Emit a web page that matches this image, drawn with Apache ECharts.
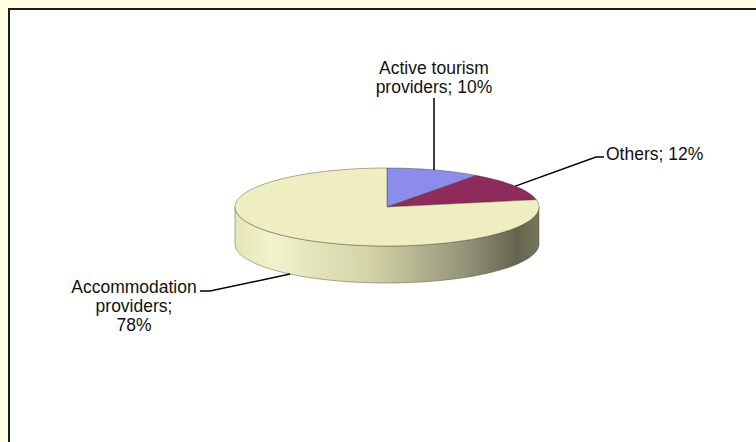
<!DOCTYPE html>
<html>
<head>
<meta charset="utf-8">
<script src="https://cdn.jsdelivr.net/npm/echarts@6/dist/echarts.min.js"></script>
<style>
  html, body { margin: 0; padding: 0; background: #FFFFDF; }
  #chart { width: 756px; height: 442px; }
</style>
</head>
<body>
<div id="chart"></div>
<script>
// ---- data ----
const categories = ['Active tourism providers', 'Others', 'Accommodation providers'];
const shares = [10, 12, 78];
const sliceColors = ['#8C8CEC', '#8E2A5C', '#EEEEC0'];

// ---- layout (positions, not data) ----
const PIE = { cx: 387, cy: 207, rx: 152, ry: 39, depth: 37 };
const LABELS = [
  { breaks: [1], x: 434, y: 77, align: 'center', via: [[434, 98]] },
  { breaks: [], x: 606, y: 154, align: 'left', via: [[596, 157], [604, 157]] },
  { breaks: [0, 1], x: 134, y: 306, align: 'center', via: [[210, 291], [200, 291]] }
];

const total = shares.reduce((a, b) => a + b, 0);
const rad = d => d * Math.PI / 180;
const pt = (deg, dy) => [PIE.cx + PIE.rx * Math.cos(rad(deg)), PIE.cy - PIE.ry * Math.sin(rad(deg)) + (dy || 0)];
const arc = (from, to, dy) => {
  const n = Math.max(2, Math.ceil(Math.abs(from - to) / 1.5));
  const pts = [];
  for (let s = 0; s <= n; s++) pts.push(pt(from + (to - from) * s / n, dy));
  return pts;
};
const wallFill = {
  type: 'linear', x: 0, y: 0, x2: 1, y2: 0,
  colorStops: [
    { offset: 0, color: '#E6E6B8' },
    { offset: 0.12, color: '#F2F2CC' },
    { offset: 0.45, color: '#D2D2A6' },
    { offset: 0.75, color: '#95957A' },
    { offset: 0.93, color: '#65654F' },
    { offset: 1, color: '#77775E' }
  ]
};

function labelText(i, v) {
  const words = (categories[i] + '; ' + v + '%').split(' ');
  let out = '';
  words.forEach((w, k) => {
    out += w;
    if (k < words.length - 1) out += LABELS[i].breaks.indexOf(k) >= 0 ? '\n' : ' ';
  });
  return out;
}

function renderItem(params, api) {
  const i = params.dataIndex;
  const v = api.value(0);
  let before = 0;
  for (let k = 0; k < i; k++) before += shares[k];
  const a1 = 90 - before / total * 360;
  const a2 = 90 - (before + v) / total * 360;
  const edge = 'rgba(70,70,50,0.55)';
  const children = [];
  // visible front wall
  [-360, 0, 360].forEach(shift => {
    const lo = Math.max(a2, -180 + shift), hi = Math.min(a1, shift);
    if (hi > lo) {
      const top = arc(hi, lo, 0);
      const bottom = arc(lo, hi, PIE.depth);
      children.push({
        type: 'polygon', shape: { points: top.concat(bottom) },
        style: { fill: wallFill, stroke: edge, lineWidth: 0.8 }
      });
    }
  });
  // top face
  children.push({
    type: 'polygon',
    shape: { points: [[PIE.cx, PIE.cy]].concat(arc(a1, a2, 0)) },
    style: { fill: api.visual('color'), stroke: edge, lineWidth: 0.8 }
  });
  // leader line + label
  const mid = (a1 + a2) / 2;
  const anchor = pt(mid, Math.sin(rad(mid)) < 0 ? PIE.depth : 0);
  const L = LABELS[i];
  children.push({
    type: 'polyline', shape: { points: [anchor].concat(L.via) },
    style: { stroke: '#000', lineWidth: 1.5, fill: null }
  });
  children.push({
    type: 'text',
    style: {
      text: labelText(i, v), x: L.x, y: L.y,
      align: L.align, verticalAlign: 'middle',
      fontSize: 17.5, fontFamily: '"Liberation Sans", Arial, sans-serif',
      lineHeight: 19, fill: '#111'
    }
  });
  return { type: 'group', children: children };
}

const chart = echarts.init(document.getElementById('chart'), null, { renderer: 'svg' });
chart.setOption({
  backgroundColor: '#FFFFDF',
  animation: false,
  graphic: [{
    type: 'rect', z: -10,
    shape: { x: 9, y: 9, width: 800, height: 500 },
    style: { fill: '#FFFFFF', stroke: '#1c1c1c', lineWidth: 2 }
  }],
  series: [{
    type: 'custom',
    coordinateSystem: 'none',
    renderItem: renderItem,
    data: shares.map((v, i) => ({ value: [v], name: categories[i], itemStyle: { color: sliceColors[i] } }))
  }]
});
</script>
</body>
</html>
